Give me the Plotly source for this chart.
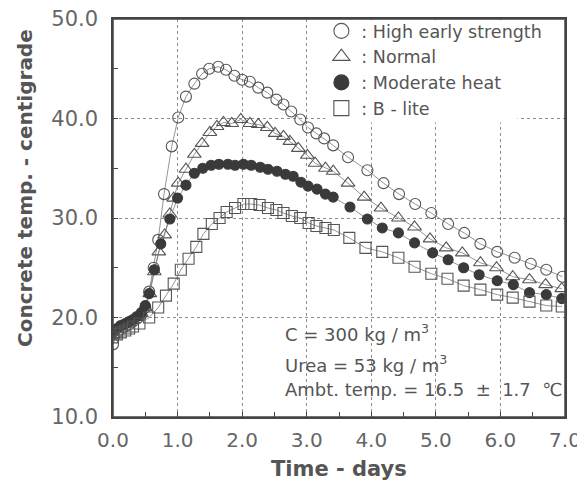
import plotly.graph_objects as go

# ---------------- data ----------------
hes_t = [0.00, 0.06, 0.12, 0.19, 0.25, 0.31, 0.37, 0.44, 0.50, 0.56, 0.63, 0.70, 0.79, 0.91,
         1.01, 1.13, 1.26, 1.38, 1.49, 1.63, 1.75, 1.88, 2.00, 2.12, 2.25, 2.39, 2.53, 2.64,
         2.76, 2.90, 3.02, 3.15, 3.27, 3.41, 3.64, 3.94, 4.19, 4.43, 4.68, 4.93, 5.19, 5.44,
         5.69, 5.95, 6.22, 6.47, 6.71, 6.96]
hes_T = [17.3, 18.4, 18.8, 19.1, 19.3, 19.6, 19.9, 20.3, 21.0, 22.6, 25.0, 27.8, 32.4, 37.2,
         40.1, 42.2, 43.5, 44.5, 45.0, 45.2, 44.9, 44.3, 43.9, 43.7, 43.1, 42.6, 41.9, 41.4,
         40.7, 39.9, 39.1, 38.5, 38.0, 37.3, 36.1, 34.8, 33.5, 32.4, 31.4, 30.5, 29.4, 28.5,
         27.4, 26.6, 26.0, 25.4, 24.8, 24.1]

nor_t = [0.00, 0.06, 0.12, 0.19, 0.25, 0.31, 0.37, 0.44, 0.50, 0.57, 0.64, 0.71, 0.80, 0.88,
         0.94, 1.01, 1.13, 1.26, 1.38, 1.50, 1.61, 1.71, 1.84, 1.98, 2.12, 2.25, 2.39, 2.51,
         2.64, 2.74, 2.87, 3.01, 3.13, 3.29, 3.41, 3.64, 3.89, 4.15, 4.42, 4.67, 4.91, 5.16,
         5.41, 5.69, 5.94, 6.19, 6.45, 6.70, 6.95]
nor_T = [18.3, 18.8, 19.1, 19.3, 19.5, 19.7, 20.0, 20.4, 21.0, 22.4, 24.6, 26.6, 28.3, 30.4,
         32.0, 33.5, 34.9, 36.4, 37.5, 38.6, 39.2, 39.6, 39.5, 39.9, 39.5, 39.4, 39.1, 38.5,
         38.2, 37.7, 37.0, 36.3, 35.5, 35.0, 34.7, 33.5, 32.1, 31.0, 30.0, 29.1, 27.9, 27.0,
         26.5, 25.5, 25.0, 24.1, 23.8, 23.3, 22.9]

mod_t = [0.00, 0.06, 0.12, 0.19, 0.25, 0.31, 0.37, 0.44, 0.50, 0.56, 0.64, 0.74, 0.88, 1.00,
         1.13, 1.26, 1.39, 1.52, 1.64, 1.78, 1.89, 2.02, 2.14, 2.28, 2.40, 2.54, 2.67, 2.79,
         2.91, 3.02, 3.16, 3.29, 3.41, 3.67, 3.94, 4.17, 4.42, 4.67, 4.95, 5.19, 5.43, 5.67,
         5.95, 6.20, 6.45, 6.71, 6.95]
mod_T = [18.5, 18.9, 19.2, 19.4, 19.6, 19.8, 20.1, 20.5, 21.2, 22.4, 24.8, 27.4, 29.9, 32.0,
         33.3, 34.5, 35.0, 35.3, 35.4, 35.4, 35.3, 35.4, 35.3, 35.1, 34.9, 34.7, 34.4, 34.2,
         33.6, 33.2, 32.9, 32.4, 32.1, 31.1, 29.9, 29.0, 28.5, 27.5, 26.5, 25.8, 25.0, 24.3,
         23.7, 23.3, 22.5, 22.3, 21.9]

bl_t = [0.00, 0.06, 0.12, 0.19, 0.25, 0.31, 0.41, 0.56, 0.70, 0.82, 0.94, 1.05, 1.17, 1.29,
        1.40, 1.53, 1.65, 1.76, 1.89, 2.02, 2.14, 2.27, 2.40, 2.53, 2.64, 2.77, 2.90, 3.03,
        3.15, 3.29, 3.42, 3.66, 3.91, 4.17, 4.42, 4.67, 4.93, 5.18, 5.43, 5.69, 5.95, 6.19,
        6.45, 6.71, 6.95]
bl_T = [18.0, 18.3, 18.5, 18.7, 18.9, 19.1, 19.4, 20.0, 21.0, 22.2, 23.4, 24.8, 25.9, 27.1,
        28.4, 29.4, 30.0, 30.6, 31.0, 31.4, 31.4, 31.3, 31.0, 30.8, 30.5, 30.2, 30.0, 29.5,
        29.2, 29.0, 28.8, 28.0, 27.0, 26.6, 26.0, 25.1, 24.4, 23.9, 23.2, 22.8, 22.3, 22.0,
        21.6, 21.2, 21.1]

series_names = [": High early strength", ": Normal", ": Moderate heat", ": B - lite"]
x_ticks = [0, 1, 2, 3, 4, 5, 6, 7]
x_tick_text = ["0.0", "1.0", "2.0", "3.0", "4.0", "5.0", "6.0", "7.0"]
y_ticks = [10, 20, 30, 40, 50]
y_tick_text = ["10.0", "20.0", "30.0", "40.0", "50.0"]
NB = "\u00a0"
notes = ["C = 300 kg / m<sup>3</sup>", "Urea = 53 kg / m<sup>3</sup>",
         "Ambt. temp. = 16.5" + NB * 2 + "±" + NB * 2 + "1.7" + NB * 2 + "℃"]

# ---------------- styles ----------------
FONT = "DejaVu Sans"
LINE_C = "#7a7a7a"
EDGE_C = "#555555"
styles = [
    dict(symbol="circle-open", size=11, color=EDGE_C),
    dict(symbol="triangle-up-open", size=12, color=EDGE_C),
    dict(symbol="circle", size=10, color="#3a3a3a"),
    dict(symbol="square-open", size=11, color=EDGE_C),
]
data = [(hes_t, hes_T), (nor_t, nor_T), (mod_t, mod_T), (bl_t, bl_T)]

fig = go.Figure()
for (t, T), st in zip(data, styles):
    fig.add_trace(go.Scatter(
        x=t, y=T, mode="lines+markers", showlegend=False,
        line=dict(color=LINE_C, width=0.8),
        marker=dict(symbol=st["symbol"], size=st["size"], color=st["color"],
                    line=dict(color=st["color"], width=1.1)),
    ))
for name, st in zip(series_names, styles):
    fig.add_trace(go.Scatter(
        x=[None], y=[None], mode="markers", name=name,
        marker=dict(symbol=st["symbol"], size=15, color=st["color"],
                    line=dict(color=st["color"], width=1.1)),
    ))

axis_common = dict(
    showline=True, linecolor="#444444", linewidth=1.5, mirror=True,
    showgrid=True, gridcolor="#8c8c8c", griddash="dot", gridwidth=1,
    ticks="inside", ticklen=5, tickcolor="#444444", zeroline=False,
    automargin=False, ticklabeloverflow="allow",
    minor=dict(ticks="inside", ticklen=5, tickcolor="#444444", showgrid=False),
)
fig.update_xaxes(range=[0, 7], tickvals=x_ticks, ticktext=x_tick_text,
                 ticklabelstandoff=4,
                 tickfont=dict(family=FONT, size=20, color="#666666"), **axis_common)
fig.update_xaxes(minor_dtick=0.5)
fig.update_yaxes(range=[10, 50], tickvals=y_ticks, ticktext=y_tick_text,
                 ticklabelstandoff=9,
                 tickfont=dict(family=FONT, size=21, color="#666666"), **axis_common)
fig.update_yaxes(minor_dtick=5)

annots = [
    dict(text="Time - days", xref="paper", yref="paper", x=0.5, y=-0.13,
         xanchor="center", yanchor="middle", showarrow=False,
         font=dict(family=FONT, size=21, color="#555555", weight="bold")),
    dict(text="Concrete temp. - centigrade", xref="paper", yref="paper",
         x=-0.195, y=0.575, textangle=-90, xanchor="center", yanchor="middle",
         showarrow=False, font=dict(family=FONT, size=20, color="#555555", weight="bold")),
]
note_y = [0.21, 0.134, 0.069]
for txt, yy in zip(notes, note_y):
    annots.append(dict(text=txt, xref="paper", yref="paper", x=0.376, y=yy,
                       xanchor="left", yanchor="middle", showarrow=False,
                       font=dict(family=FONT, size=18, color="#555555")))

# The page body adds an 8px margin, so the figure is sized/offset to compensate.
fig.update_layout(
    width=577, height=476,
    margin=dict(l=105, r=20, t=11, b=67, autoexpand=False),
    paper_bgcolor="white", plot_bgcolor="white",
    showlegend=True,
    legend=dict(x=0.461, y=1.015, xanchor="left", yanchor="top",
                bgcolor="rgba(255,255,255,0)", borderwidth=0,
                font=dict(family=FONT, size=17.5, color="#555555"),
                tracegroupgap=0, itemwidth=30),
    annotations=annots,
    shapes=[
        # blank panel behind the legend (hides the grid there, as in the reference)
        dict(type="rect", xref="paper", yref="paper", x0=0.47, x1=0.895, y0=0.74, y1=0.997,
             line=dict(width=0), fillcolor="white", layer="above"),
        # plot frame
        dict(type="rect", xref="paper", yref="paper", x0=0, x1=1, y0=0, y1=1,
             line=dict(color="#444444", width=1.5), layer="above"),
    ],
)

fig.write_html("out.html")
